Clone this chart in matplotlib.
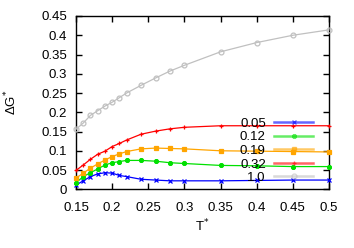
import matplotlib
matplotlib.use("Agg")
import matplotlib.pyplot as plt
from matplotlib.lines import Line2D

plt.rcParams["font.family"] = ["Liberation Sans", "DejaVu Sans"]
plt.rcParams["font.size"] = 9.5

# =========================
# Datos
# =========================
T_SHORT = [0.15, 0.16, 0.17, 0.18, 0.19, 0.20, 0.21, 0.22, 0.24, 0.26, 0.28,
           0.30, 0.35, 0.40, 0.45, 0.50]
T_GRAY = [0.15, 0.16, 0.17, 0.18, 0.19, 0.20, 0.21, 0.22, 0.24, 0.26, 0.28,
          0.30, 0.35, 0.40, 0.45, 0.50]

g_005 = [0.011, 0.022, 0.033, 0.040, 0.043, 0.042, 0.036, 0.033, 0.026, 0.024,
         0.022, 0.022, 0.022, 0.023, 0.024, 0.024]
g_012 = [0.017, 0.033, 0.043, 0.053, 0.063, 0.069, 0.072, 0.075, 0.075, 0.073,
         0.069, 0.067, 0.062, 0.061, 0.059, 0.059]
g_019 = [0.029, 0.042, 0.055, 0.066, 0.076, 0.085, 0.092, 0.098, 0.105, 0.107,
         0.106, 0.105, 0.100, 0.099, 0.098, 0.097]
g_032 = [0.049, 0.063, 0.078, 0.091, 0.099, 0.111, 0.119, 0.128, 0.143, 0.151,
         0.157, 0.161, 0.165, 0.165, 0.165, 0.165]
g_100 = [0.156, 0.172, 0.192, 0.204, 0.216, 0.226, 0.238, 0.250, 0.270, 0.289,
         0.307, 0.322, 0.357, 0.381, 0.400, 0.414]

LABELS = ["0.05", "0.12", "0.19", "0.32", "1.0"]
COLORS = ["#0000ff", "#00e000", "#ffa500", "#ff0000", "#c0c0c0"]
MARKERS = ["x", (8, 2, 0), "s", "+", "o"]

X_TICKS = [0.15, 0.2, 0.25, 0.3, 0.35, 0.4, 0.45, 0.5]
X_TICK_LABELS = ["0.15", "0.2", "0.25", "0.3", "0.35", "0.4", "0.45", "0.5"]
Y_TICKS = [0, 0.05, 0.1, 0.15, 0.2, 0.25, 0.3, 0.35, 0.4, 0.45]
Y_TICK_LABELS = ["0", "0.05", "0.1", "0.15", "0.2", "0.25", "0.3", "0.35", "0.4", "0.45"]


def main() -> None:
    fig = plt.figure(figsize=(3.54, 2.48), dpi=100)
    ax = fig.add_axes([0.2147, 0.2367, 0.7147, 0.6988])

    series = [g_005, g_012, g_019, g_032, g_100]
    xs = [T_SHORT, T_SHORT, T_SHORT, T_SHORT, T_GRAY]
    for x, y, c, m in zip(xs, series, COLORS, MARKERS):
        face = "none" if m == "o" else c
        ax.plot(x, y, color=c, lw=0.9, marker=m, markersize=3.5,
                markerfacecolor=face, markeredgecolor=c, markeredgewidth=0.9,
                clip_on=False, zorder=3)

    ax.set_xlim(0.15, 0.5)
    ax.set_ylim(0, 0.45)
    ax.set_xticks(X_TICKS, X_TICK_LABELS)
    ax.set_yticks(Y_TICKS, Y_TICK_LABELS)
    ax.tick_params(direction="in", top=True, right=True, length=4, width=1)
    ax.tick_params(axis="x", pad=9)
    ax.tick_params(axis="y", pad=6.5)
    for sp in ax.spines.values():
        sp.set_linewidth(1)

    ax.set_xlabel("T$^{*}$")
    ax.set_ylabel("ΔG$^{*}$")
    ax.xaxis.set_label_coords(0.5, -0.165)
    ax.yaxis.set_label_coords(-0.225, 0.5)

    handles = []
    for c, m in zip(COLORS, MARKERS):
        face = "none" if m == "o" else c
        handles.append(Line2D([0], [0], color=c, lw=1.8, alpha=0.6, marker=m,
                              markersize=3.5, markerfacecolor=face,
                              markeredgecolor=c))
    ax.legend(handles, LABELS, loc="upper right",
              bbox_to_anchor=(316 / 354, 1 - 115 / 248),
              bbox_transform=fig.transFigure,
              frameon=False, markerfirst=False, handlelength=3.0,
              handletextpad=0.6, labelspacing=0.1, borderpad=0.2,
              borderaxespad=0, fontsize=9.5)

    fig.savefig("out.png", dpi=100)


if __name__ == "__main__":
    main()
